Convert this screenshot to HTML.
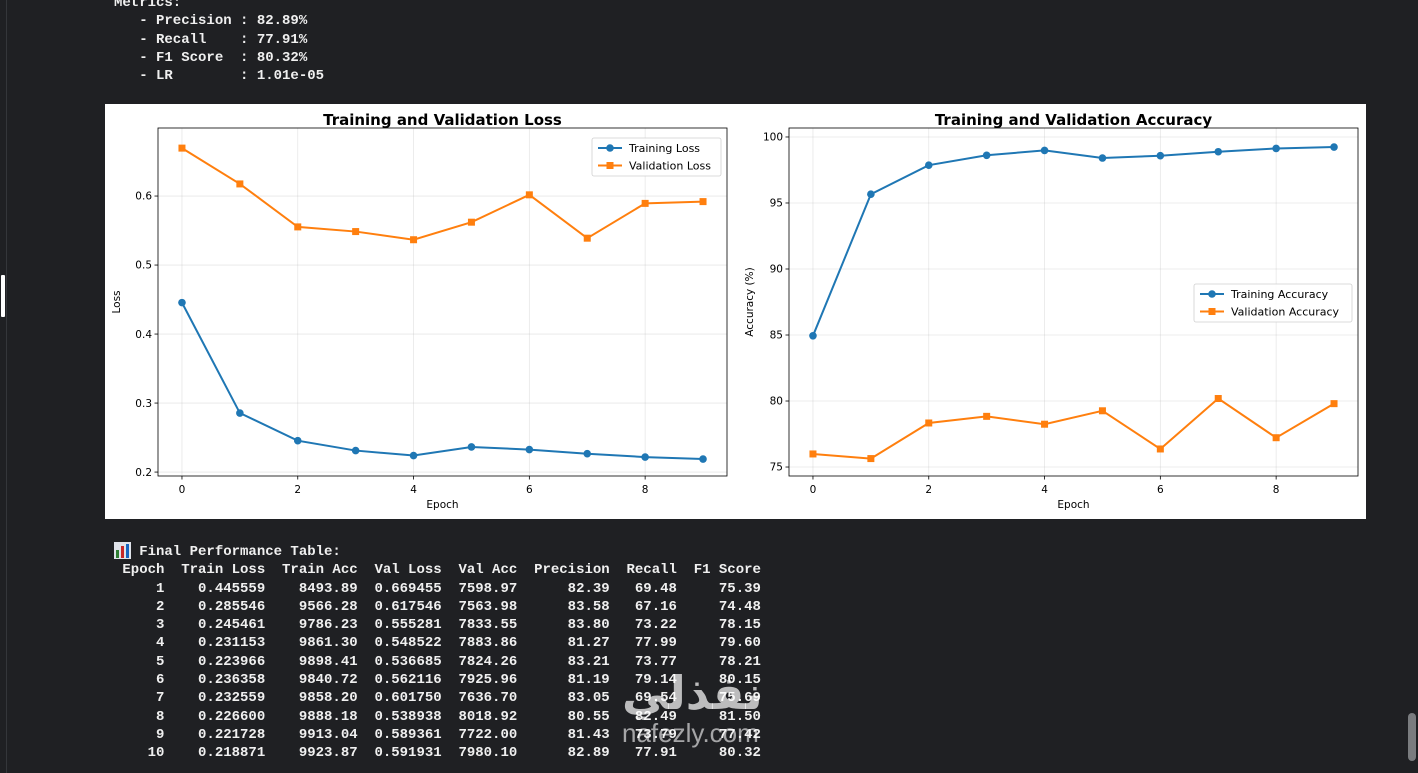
<!DOCTYPE html>
<html><head><meta charset="utf-8"><style>
html,body{margin:0;padding:0;}
body{width:1418px;height:773px;background:#1f2023;position:relative;overflow:hidden;font-family:"Liberation Mono",monospace;}
pre{margin:0;position:absolute;color:#f0f0f0;font-family:"Liberation Mono",monospace;font-size:14px;font-weight:bold;line-height:18.3px;}
#panel{position:absolute;left:105px;top:104px;width:1261px;height:415px;background:#fff;}
</style></head><body>
<div style="position:absolute;left:6px;top:0;width:1px;height:773px;background:#34363a"></div>
<div style="position:absolute;left:1px;top:275px;width:4px;height:42px;background:#fff;border-radius:1px"></div>
<div style="position:absolute;left:1408px;top:713px;width:8px;height:48px;background:#7a7c7f;border-radius:4px"></div>
<pre style="left:114px;top:-6px">Metrics:
   - Precision : 82.89%
   - Recall    : 77.91%
   - F1 Score  : 80.32%
   - LR        : 1.01e-05</pre>
<div id="panel">
<svg id="svg" width="1261" height="415" xmlns="http://www.w3.org/2000/svg" font-family="DejaVu Sans, Liberation Sans, sans-serif"></svg>
</div>
<svg style="position:absolute;left:114px;top:542px" width="17" height="17"><rect x="0" y="0" width="17" height="17" fill="#dfe3ea"/><rect x="2" y="8" width="3" height="8" fill="#2e7d32"/><rect x="7" y="4" width="3" height="12" fill="#c62828"/><rect x="12" y="2" width="3" height="14" fill="#1565c0"/></svg>
<pre style="left:114px;top:543px">   Final Performance Table:
 Epoch  Train Loss  Train Acc  Val Loss  Val Acc  Precision  Recall  F1 Score
     1    0.445559    8493.89  0.669455  7598.97      82.39   69.48     75.39
     2    0.285546    9566.28  0.617546  7563.98      83.58   67.16     74.48
     3    0.245461    9786.23  0.555281  7833.55      83.80   73.22     78.15
     4    0.231153    9861.30  0.548522  7883.86      81.27   77.99     79.60
     5    0.223966    9898.41  0.536685  7824.26      83.21   73.77     78.21
     6    0.236358    9840.72  0.562116  7925.96      81.19   79.14     80.15
     7    0.232559    9858.20  0.601750  7636.70      83.05   69.54     75.69
     8    0.226600    9888.18  0.538938  8018.92      80.55   82.49     81.50
     9    0.221728    9913.04  0.589361  7722.00      81.43   73.79     77.42
    10    0.218871    9923.87  0.591931  7980.10      82.89   77.91     80.32</pre>
<div style="position:absolute;left:622px;top:668px;font-family:'Liberation Sans','DejaVu Sans',sans-serif;font-size:46px;font-weight:bold;line-height:50px;color:rgba(255,255,255,0.7)">نفذلي<div style="font-size:26px;font-weight:normal;line-height:30px;margin-top:0px;color:rgba(255,255,255,0.6)">nafezly.com</div></div>
<script>
const epochs=[0,1,2,3,4,5,6,7,8,9];
const trainLoss=[0.445559,0.285546,0.245461,0.231153,0.223966,0.236358,0.232559,0.226600,0.221728,0.218871];
const valLoss=[0.669455,0.617546,0.555281,0.548522,0.536685,0.562116,0.601750,0.538938,0.589361,0.591931];
const trainAcc=[84.9389,95.6628,97.8623,98.6130,98.9841,98.4072,98.5820,98.8818,99.1304,99.2387];
const valAcc=[75.9897,75.6398,78.3355,78.8386,78.2426,79.2596,76.3670,80.1892,77.2200,79.8010];
const xTicks=[0,2,4,6,8];
const lossTicks=[0.2,0.3,0.4,0.5,0.6];
const accTicks=[75,80,85,90,95,100];
const NS="http://www.w3.org/2000/svg";
const svg=document.getElementById('svg');
function el(t,a,p){const e=document.createElementNS(NS,t);for(const k in a)e.setAttribute(k,a[k]);(p||svg).appendChild(e);return e;}
function chart(o){
  const {L,T,W,H,xmin,xmax,ymin,ymax}=o;
  const xs=v=>L+(v-xmin)/(xmax-xmin)*W, ys=v=>T+H-(v-ymin)/(ymax-ymin)*H;
  const g=el('g',{});
  
  
  xTicks.forEach(t=>{el('line',{x1:xs(t),x2:xs(t),y1:T,y2:T+H,stroke:'#b0b0b0','stroke-opacity':0.3,'stroke-width':0.8},g);
    el('line',{x1:xs(t),x2:xs(t),y1:T+H,y2:T+H+3.5,stroke:'#000','stroke-width':0.8},g);
    const tx=el('text',{x:xs(t),y:T+H+17,'font-size':10.5,'text-anchor':'middle',fill:'#000'},g);tx.textContent=t;
    });
  o.yTicks.forEach(t=>{el('line',{x1:L,x2:L+W,y1:ys(t),y2:ys(t),stroke:'#b0b0b0','stroke-opacity':0.3,'stroke-width':0.8},g);
    el('line',{x1:L-3.5,x2:L,y1:ys(t),y2:ys(t),stroke:'#000','stroke-width':0.8},g);
    const tx=el('text',{x:L-6,y:ys(t)+3.7,'font-size':10.5,'text-anchor':'end',fill:'#000'},g);tx.textContent=o.fmt(t);
    });
  el('rect',{x:L,y:T,width:W,height:H,fill:'none',stroke:'#000','stroke-width':0.8},g);
  const ti=el('text',{x:L+W/2,y:T-3,'font-size':15,'font-weight':'bold','text-anchor':'middle',fill:'#000'},g);ti.textContent=o.title;
  
  const xl=el('text',{x:L+W/2,y:T+H+32,'font-size':10.5,'text-anchor':'middle',fill:'#000'},g);xl.textContent='Epoch';
  
  const yl=el('text',{x:0,y:0,'font-size':10.5,'text-anchor':'middle',fill:'#000',transform:`translate(${L-o.ylOff},${T+H/2}) rotate(-90)`},g);yl.textContent=o.ylabel;
  
  o.series.forEach(s=>{
    const pl=el('polyline',{points:s.data.map((v,i)=>xs(epochs[i])+','+ys(v)).join(' '),fill:'none',stroke:s.c,'stroke-width':2},g);
    
    s.data.forEach((v,i)=>{let m;
      if(s.sq)m=el('rect',{x:xs(epochs[i])-3.5,y:ys(v)-3.5,width:7,height:7,fill:s.c},g);
      else m=el('circle',{cx:xs(epochs[i]),cy:ys(v),r:3.8,fill:s.c},g);
      });
  });
  const lg=el('g',{},g);
  el('rect',{x:o.lx,y:o.ly,width:o.lw,height:38,rx:2,fill:'#fff','fill-opacity':0.85,stroke:'#d0d0d0','stroke-width':0.8},lg);
  o.series.forEach((s,k)=>{const y=o.ly+10+k*17.5;
    el('line',{x1:o.lx+6,x2:o.lx+30,y1:y,y2:y,stroke:s.c,'stroke-width':2},lg);
    if(s.sq)el('rect',{x:o.lx+14.5,y:y-3.5,width:7,height:7,fill:s.c},lg);else el('circle',{cx:o.lx+18,cy:y,r:3.8,fill:s.c},lg);
    const t=el('text',{x:o.lx+37,y:y+4,'font-size':11,fill:'#000'},lg);t.textContent=s.label;
    });
}
const B='#1f77b4',O='#ff7f0e';
chart({name:'loss-chart',L:53,T:24,W:569,H:348,xmin:-0.414,xmax:9.414,ymin:0.1943,ymax:0.6986,yTicks:lossTicks,fmt:v=>v.toFixed(1),
  title:'Training and Validation Loss',ylabel:'Loss',ylOff:38,lx:487,ly:34,lw:129,
  series:[{name:'training-loss',label:'Training Loss',data:trainLoss,c:B},{name:'validation-loss',label:'Validation Loss',data:valLoss,c:O,sq:1}]});
chart({name:'accuracy-chart',L:684,T:24,W:569,H:348,xmin:-0.414,xmax:9.414,ymin:74.32,ymax:100.68,yTicks:accTicks,fmt:v=>v,
  title:'Training and Validation Accuracy',ylabel:'Accuracy (%)',ylOff:36,lx:1089,ly:180,lw:158,
  series:[{name:'training-accuracy',label:'Training Accuracy',data:trainAcc,c:B},{name:'validation-accuracy',label:'Validation Accuracy',data:valAcc,c:O,sq:1}]});
</script>
</body></html>
